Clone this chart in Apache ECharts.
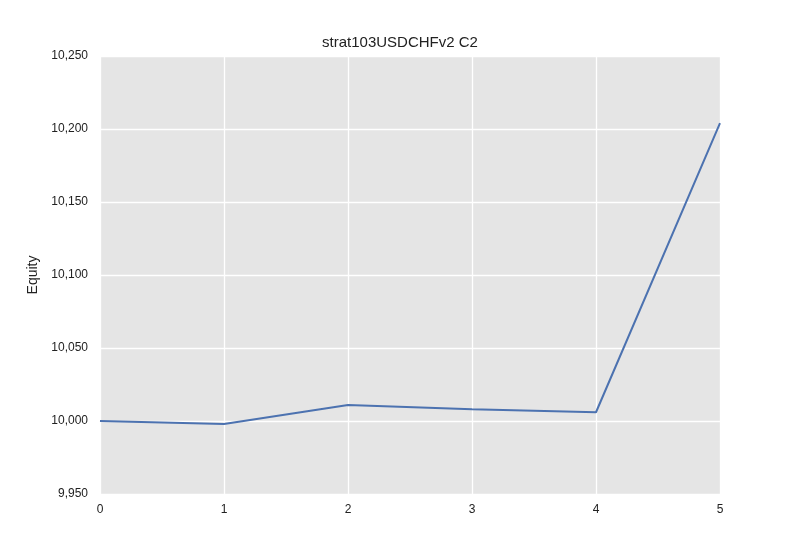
<!doctype html>
<html>
<head>
<meta charset="utf-8">
<script src="https://cdn.jsdelivr.net/npm/echarts@6/dist/echarts.min.js"></script>
</head>
<body style="margin:0;background:#fff">
<div id="main" style="width:800px;height:550px"></div>
<script>
var steps = [0, 1, 2, 3, 4, 5];
var equity = [10000, 9998, 10011, 10008, 10006, 10204];

var chart = echarts.init(document.getElementById('main'));
chart.setOption({
	backgroundColor: '#fff',
	title: {
		text: 'strat103USDCHFv2 C2', left: 'center', top: 30,
		textStyle: { fontFamily: 'Arial, Liberation Sans', fontSize: 15, fontWeight: 'normal', color: '#222' }
	},
	grid: { left: 100, right: 80, top: 56, bottom: 56, backgroundColor: '#e5e5e5', show: true, borderWidth: 0 },
	xAxis: {
		type: 'value', min: 0, max: 5, interval: 1,
		axisLine: { show: false }, axisTick: { show: false },
		splitLine: { lineStyle: { color: '#fff', width: 1.3 } },
		axisLabel: { color: '#222', fontSize: 12, fontFamily: 'Arial, Liberation Sans', margin: 10 }
	},
	yAxis: {
		type: 'value', min: 9950, max: 10250, interval: 50, name: 'Equity',
		nameLocation: 'middle', nameGap: 60,
		nameTextStyle: { color: '#222', fontSize: 14, fontFamily: 'Arial, Liberation Sans' },
		axisLine: { show: false }, axisTick: { show: false },
		splitLine: { lineStyle: { color: '#fff', width: 1.3 } },
		axisLabel: { color: '#222', fontSize: 12, fontFamily: 'Arial, Liberation Sans', margin: 12 }
	},
	series: [{
		type: 'line', data: steps.map(function (s, i) { return [s, equity[i]]; }),
		showSymbol: false, lineStyle: { color: '#4c72b0', width: 2 }, itemStyle: { color: '#4c72b0' }
	}]
});
</script>
</body>
</html>
